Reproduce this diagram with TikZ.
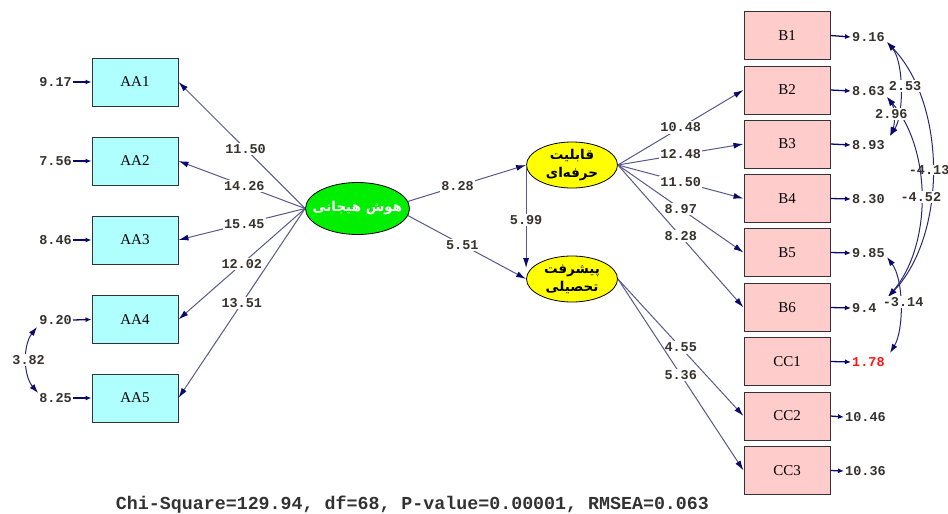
\documentclass[tikz,border=0pt]{standalone}
\usepackage{fontspec}
\setmainfont{Liberation Serif}
\newfontfamily\arabicfont[Script=Arabic]{DejaVu Sans}
\newfontfamily\numfont{Liberation Mono}
\TeXXeTstate=1
\usetikzlibrary{arrows.meta,shapes.geometric}
\definecolor{linec}{RGB}{88,88,140}
\definecolor{headc}{RGB}{10,10,110}
\definecolor{covc}{RGB}{40,40,110}
\definecolor{cyanbox}{RGB}{175,255,255}
\definecolor{pinkbox}{RGB}{255,204,204}
\definecolor{greenell}{RGB}{0,238,0}
\definecolor{yellowell}{RGB}{255,255,0}
\definecolor{txtc}{RGB}{55,50,45}
\definecolor{redtxt}{RGB}{255,20,20}
\begin{document}
\begin{tikzpicture}[x=1pt,y=-1pt,
  obsA/.style={draw=black!80, fill=cyanbox, minimum width=86pt, minimum height=48pt, inner sep=0pt, line width=1pt, font=\fontsize{15}{15}\selectfont},
  obsB/.style={obsA, fill=pinkbox},
  lat/.style={ellipse, draw=black, line width=0.8pt, inner sep=0pt},
  num/.style={font=\numfont\bfseries\fontsize{13.5}{13.5}\selectfont, text=txtc, inner sep=1pt},
  lbl/.style={num, fill=white, inner sep=1.5pt},
  pth/.style={draw=linec, line width=1pt, -{Latex[length=10pt,width=6pt,color=headc]}},
  err/.style={draw=headc, line width=1.3pt, -{Latex[length=6pt,width=5pt,color=headc]}},
  cov/.style={draw=covc, line width=1pt, {Latex[length=9pt,width=6pt,color=headc]}-{Latex[length=9pt,width=6pt,color=headc]}},
  pfont/.style={font=\arabicfont\bfseries\fontsize{13.5}{18}\selectfont, align=center, inner sep=0pt}
]
\useasboundingbox (0,0) rectangle (948,514);

% latent variables
\node[lat, fill=greenell, minimum width=104pt, minimum height=52pt,
  label={[pfont, text=white]center:\beginR هوش هیجانی\endR}] (G) at (357.5,208.5) {};
\node[lat, fill=yellowell, minimum width=91pt, minimum height=46pt,
  label={[pfont]center:\beginR قابلیت\endR\\\beginR حرفه‌ای\endR}] (Y1) at (572,165) {};
\node[lat, fill=yellowell, minimum width=91pt, minimum height=46pt,
  label={[pfont]center:\beginR پیشرفت\endR\\\beginR تحصیلی\endR}] (Y2) at (572,279) {};

% left indicators
\node[obsA] (A1) at (135,82) {AA1};
\node[obsA] (A2) at (135,161) {AA2};
\node[obsA] (A3) at (135,240) {AA3};
\node[obsA] (A4) at (135,319.5) {AA4};
\node[obsA] (A5) at (135,398) {AA5};

% right indicators
\node[obsB] (B1) at (787,35.5) {B1};
\node[obsB] (B2) at (787,90) {B2};
\node[obsB] (B3) at (787,144) {B3};
\node[obsB] (B4) at (787,198.5) {B4};
\node[obsB] (B5) at (787,252.5) {B5};
\node[obsB] (B6) at (787,307.5) {B6};
\node[obsB] (C1) at (787,361.5) {CC1};
\node[obsB] (C2) at (787,416) {CC2};
\node[obsB] (C3) at (787,470.5) {CC3};

% left error terms
\node[num, anchor=east] (eA1) at (73,82) {9.17};
\node[num, anchor=east] (eA2) at (73,161) {7.56};
\node[num, anchor=east] (eA3) at (73,240) {8.46};
\node[num, anchor=east] (eA4) at (73,320) {9.20};
\node[num, anchor=east] (eA5) at (73,398) {8.25};
\foreach \i in {1,...,5} \draw[err] (eA\i.east) -- (A\i.west);

% right error terms
\node[num, anchor=west] (eB1) at (851,37) {9.16};
\node[num, anchor=west] (eB2) at (851,91) {8.63};
\node[num, anchor=west] (eB3) at (851,145) {8.93};
\node[num, anchor=west] (eB4) at (851,199) {8.30};
\node[num, anchor=west] (eB5) at (851,253) {9.85};
\node[num, anchor=west] (eB6) at (851,308) {9.4};
\node[num, anchor=west, text=redtxt] (eC1) at (851,362) {1.78};
\node[num, anchor=west] (eC2) at (844,417) {10.46};
\node[num, anchor=west] (eC3) at (844,471) {10.36};
\foreach \b/\e in {B1/eB1,B2/eB2,B3/eB3,B4/eB4,B5/eB5,B6/eB6,C1/eC1,C2/eC2,C3/eC3}
  \draw[err] (\b.east) -- (\e.west);

% structural paths
\draw[pth] (G.west) -- node[lbl,pos=0.47]{11.50} (A1.east);
\draw[pth] (G.west) -- node[lbl,pos=0.48]{14.26} (A2.east);
\draw[pth] (G.west) -- node[lbl,pos=0.48]{15.45} (A3.east);
\draw[pth] (G.west) -- node[lbl,pos=0.5]{12.02} (A4.east);
\draw[pth] (G.west) -- node[lbl,pos=0.5]{13.51} (A5.east);

\draw[pth] (G.8) -- node[lbl,pos=0.42]{8.28} (Y1.west);
\draw[pth] (G.-8) -- node[lbl,pos=0.46]{5.51} (Y2.west);
\draw[pth] (Y1.west) -- node[lbl,pos=0.53]{5.99} (Y1.west |- Y2.165);

\draw[pth] (Y1.east) -- node[lbl,pos=0.5]{10.48} (B2.west);
\draw[pth] (Y1.east) -- node[lbl,pos=0.5]{12.48} (B3.west);
\draw[pth] (Y1.east) -- node[lbl,pos=0.5]{11.50} (B4.west);
\draw[pth] (Y1.east) -- node[lbl,pos=0.5]{8.97} (B5.west);
\draw[pth] (Y1.east) -- node[lbl,pos=0.5]{8.28} (B6.west);

\draw[pth] (Y2.east) -- node[lbl,pos=0.5]{4.55} (C2.west);
\draw[pth] (Y2.east) -- node[lbl,pos=0.5]{5.36} (C3.west);

% error covariances
\coordinate (k1) at (887,42);
\coordinate (k2) at (887,97);
\coordinate (k3) at (890,136);
\coordinate (k5) at (887,257);
\coordinate (k6) at (888,297);
\coordinate (k7) at (890,353);
\coordinate (m4) at (37,327);
\coordinate (m5) at (38,393);

\draw[cov] (k1) .. controls (947,105) and (947,235) .. node[lbl,pos=0.5,xshift=-3pt,inner sep=0.5pt]{-4.13} (k6);
\draw[cov] (k2) .. controls (932,150) and (932,245) .. node[lbl,pos=0.5]{-4.52} (k6);
\draw[cov] (k1) .. controls (904,62) and (904,115) .. node[lbl,pos=0.5,xshift=5pt,yshift=3pt]{2.53} (k3);
\draw[cov] (k2) .. controls (895,108) and (895,124) .. node[lbl,pos=0.5,xshift=-2pt,yshift=2pt]{2.96} (k3);
\draw[cov] (k5) .. controls (904,280) and (904,330) .. node[lbl,pos=0.5,xshift=3pt,yshift=3pt]{-3.14} (k7);
\draw[cov] (m4) .. controls (23,345) and (23,375) .. node[lbl,pos=0.5,xshift=2pt]{3.82} (m5);

% fit statistics
\node[font=\numfont\bfseries\fontsize{18.3}{18.3}\selectfont, text={rgb,255:red,50;green,50;blue,50}, inner sep=0pt] (fit) at (412.5,505) {Chi-Square=129.94, df=68, P-value=0.00001, RMSEA=0.063};
\end{tikzpicture}
\end{document}
